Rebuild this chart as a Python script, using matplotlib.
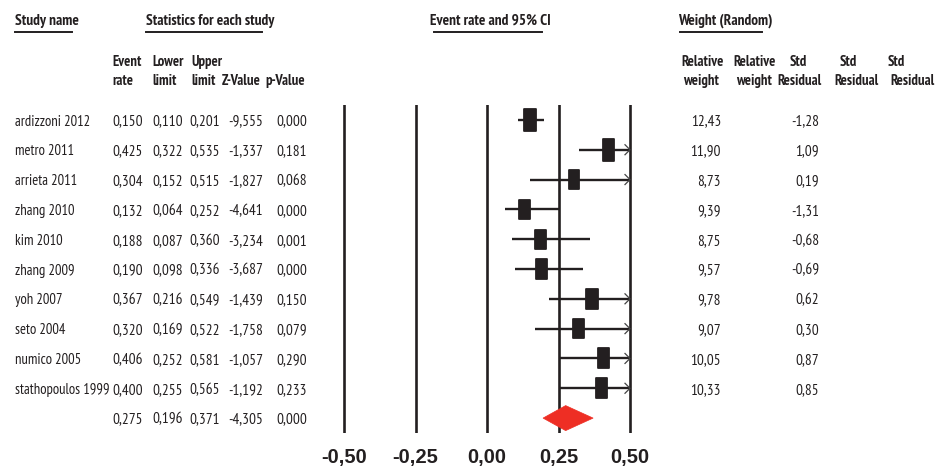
import matplotlib
matplotlib.use("Agg")
import matplotlib.pyplot as plt
from matplotlib.patches import Rectangle, Polygon
from matplotlib.lines import Line2D

# ---- data -------------------------------------------------------------
studies = ["ardizzoni 2012", "metro 2011", "arrieta 2011", "zhang 2010", "kim 2010",
           "zhang 2009", "yoh 2007", "seto 2004", "numico 2005", "stathopoulos 1999"]
event_rate = [0.150, 0.425, 0.304, 0.132, 0.188, 0.190, 0.367, 0.320, 0.406, 0.400]
lower_limit = [0.110, 0.322, 0.152, 0.064, 0.087, 0.098, 0.216, 0.169, 0.252, 0.255]
upper_limit = [0.201, 0.535, 0.515, 0.252, 0.360, 0.336, 0.549, 0.522, 0.581, 0.565]
z_value = [-9.555, -1.337, -1.827, -4.641, -3.234, -3.687, -1.439, -1.758, -1.057, -1.192]
p_value = [0.000, 0.181, 0.068, 0.000, 0.001, 0.000, 0.150, 0.079, 0.290, 0.233]
rel_weight = [12.43, 11.90, 8.73, 9.39, 8.75, 9.57, 9.78, 9.07, 10.05, 10.33]
std_resid = [-1.28, 1.09, 0.19, -1.31, -0.68, -0.69, 0.62, 0.30, 0.87, 0.85]

pooled_rate = 0.275
pooled_lower = 0.196
pooled_upper = 0.371
pooled_z = -4.305
pooled_p = 0.000

axis_ticks = [-0.50, -0.25, 0.00, 0.25, 0.50]

# ---- styling ------------------------------------------------------------
INK = "#231F20"
RED = "#EE2E24"
NARROW = ["PT Sans Narrow", "DejaVu Sans"]
WIDE = ["Liberation Sans", "DejaVu Sans"]


def fmt(v, nd):
    return f"{v:.{nd}f}".replace(".", ",")


W, H = 949, 468
fig = plt.figure(figsize=(W / 100, H / 100), dpi=100)
fig.patch.set_facecolor("white")

# overlay axes in pixel units for the table text
tab = fig.add_axes([0, 0, 1, 1])
tab.set_xlim(0, W)
tab.set_ylim(H, 0)
tab.axis("off")

# forest-plot axes: x in event-rate units, y in row index
px_left, px_right, px_top, px_bot = 330, 650, 105, 433
x_zero, px_per_unit = 487.0, 286.0
fax = fig.add_axes([px_left / W, 1 - px_bot / H, (px_right - px_left) / W, (px_bot - px_top) / H])
fax.set_xlim((px_left - x_zero) / px_per_unit, (px_right - x_zero) / px_per_unit)
fax.set_ylim(10.5, -0.5)
for s in fax.spines.values():
    s.set_visible(False)
fax.set_yticks([])
fax.set_facecolor("none")

row_px = 29.8  # pixel height of one row
ux = 1.0 / px_per_unit  # one pixel in x data units
uy = 1.0 / row_px       # one pixel in row units

for t in axis_ticks:
    fax.axvline(t, color=INK, lw=1.9, zorder=1)

fax.set_xticks(axis_ticks)
fax.set_xticklabels([fmt(t, 2) for t in axis_ticks], fontsize=14.5, fontweight="bold",
                    family=WIDE, color=INK)
fax.tick_params(axis="x", length=0, pad=10.5)

xmin_clip, xmax_clip = axis_ticks[0], axis_ticks[-1]
for i, (er, lo, hi, w) in enumerate(zip(event_rate, lower_limit, upper_limit, rel_weight)):
    lo_c = max(lo, xmin_clip)
    hi_c = min(hi, xmax_clip)
    fax.plot([lo_c, hi_c], [i, i], color=INK, lw=1.7, solid_capstyle="butt", zorder=2)
    if hi > xmax_clip:
        fax.plot([xmax_clip - 5 * ux, xmax_clip, xmax_clip - 5 * ux],
                 [i - 5 * uy, i, i + 5 * uy], color="#444444", lw=0.9, zorder=3)
    bw = (8.0 + 0.32 * w) * ux
    bh = (10.0 + 1.0 * w) * uy
    fax.add_patch(Rectangle((er - bw / 2, i - bh / 2), bw, bh, facecolor=INK,
                            edgecolor=INK, lw=1.3, joinstyle="round", zorder=4))

prow = len(studies)
dh = 12.5 * uy
fax.add_patch(Polygon([(pooled_lower, prow), (pooled_rate, prow - dh),
                       (pooled_upper, prow), (pooled_rate, prow + dh)],
                      closed=True, facecolor=RED, edgecolor=RED, lw=0.5, zorder=4))

# ---- table text -------------------------------------------------------
def txt(x, y, s, ha="left", bold=False, size=10.5):
    tab.text(x, y, s, ha=ha, va="center", fontsize=size, family=NARROW,
             fontweight="bold" if bold else "normal", color=INK)


def underline(x0, x1, y):
    tab.add_line(Line2D([x0, x1], [y, y], color=INK, lw=1.4))


# section titles
txt(15, 21, "Study name", bold=True, size=11)
underline(15, 72, 32)
txt(146, 21, "Statistics for each study", bold=True, size=11)
underline(146, 262, 32)
txt(430, 21, "Event rate and 95% CI", bold=True, size=11)
underline(434, 542, 32)
txt(678, 21, "Weight (Random)", bold=True, size=11)
underline(680, 762, 32)

# column headers
hdr_y1, hdr_y2 = 62, 81
for x, a, b in [(112, "Event", "rate"), (152, "Lower", "limit"), (191, "Upper", "limit")]:
    txt(x, hdr_y1, a, bold=True, size=10.5)
    txt(x, hdr_y2, b, bold=True, size=10.5)
txt(222, hdr_y2, "Z-Value", bold=True, size=10.5)
txt(265, hdr_y2, "p-Value", bold=True, size=10.5)

txt(703, hdr_y1, "Relative", ha="center", bold=True, size=10.5)
txt(701, hdr_y2, "weight", ha="center", bold=True, size=10.5)
txt(755, hdr_y1, "Relative", ha="center", bold=True, size=10.5)
txt(754, hdr_y2, "weight", ha="center", bold=True, size=10.5)
for xs, xr in [(790, 800), (840, 857), (888, 913)]:
    txt(xs, hdr_y1, "Std", bold=True, size=10.5)
    txt(xr, hdr_y2, "Residual", ha="center", bold=True, size=10.5)

# study rows
row0 = 121.5
col_centers = [128, 167.5, 205, 246, 292]
for i, name in enumerate(studies):
    y = row0 + row_px * i
    txt(15, y, name, size=10.5)
    vals = [fmt(event_rate[i], 3), fmt(lower_limit[i], 3), fmt(upper_limit[i], 3),
            fmt(z_value[i], 3), fmt(p_value[i], 3)]
    for cx, v in zip(col_centers, vals):
        txt(cx, y, v, ha="center", size=11)
    txt(721, y, fmt(rel_weight[i], 2), ha="right", size=11)
    txt(819, y, fmt(std_resid[i], 2), ha="right", size=11)

y = row0 + row_px * prow
for cx, v in zip(col_centers, [fmt(pooled_rate, 3), fmt(pooled_lower, 3), fmt(pooled_upper, 3),
                               fmt(pooled_z, 3), fmt(pooled_p, 3)]):
    txt(cx, y, v, ha="center", size=11)

fig.savefig("out.png", dpi=100, facecolor="white")
